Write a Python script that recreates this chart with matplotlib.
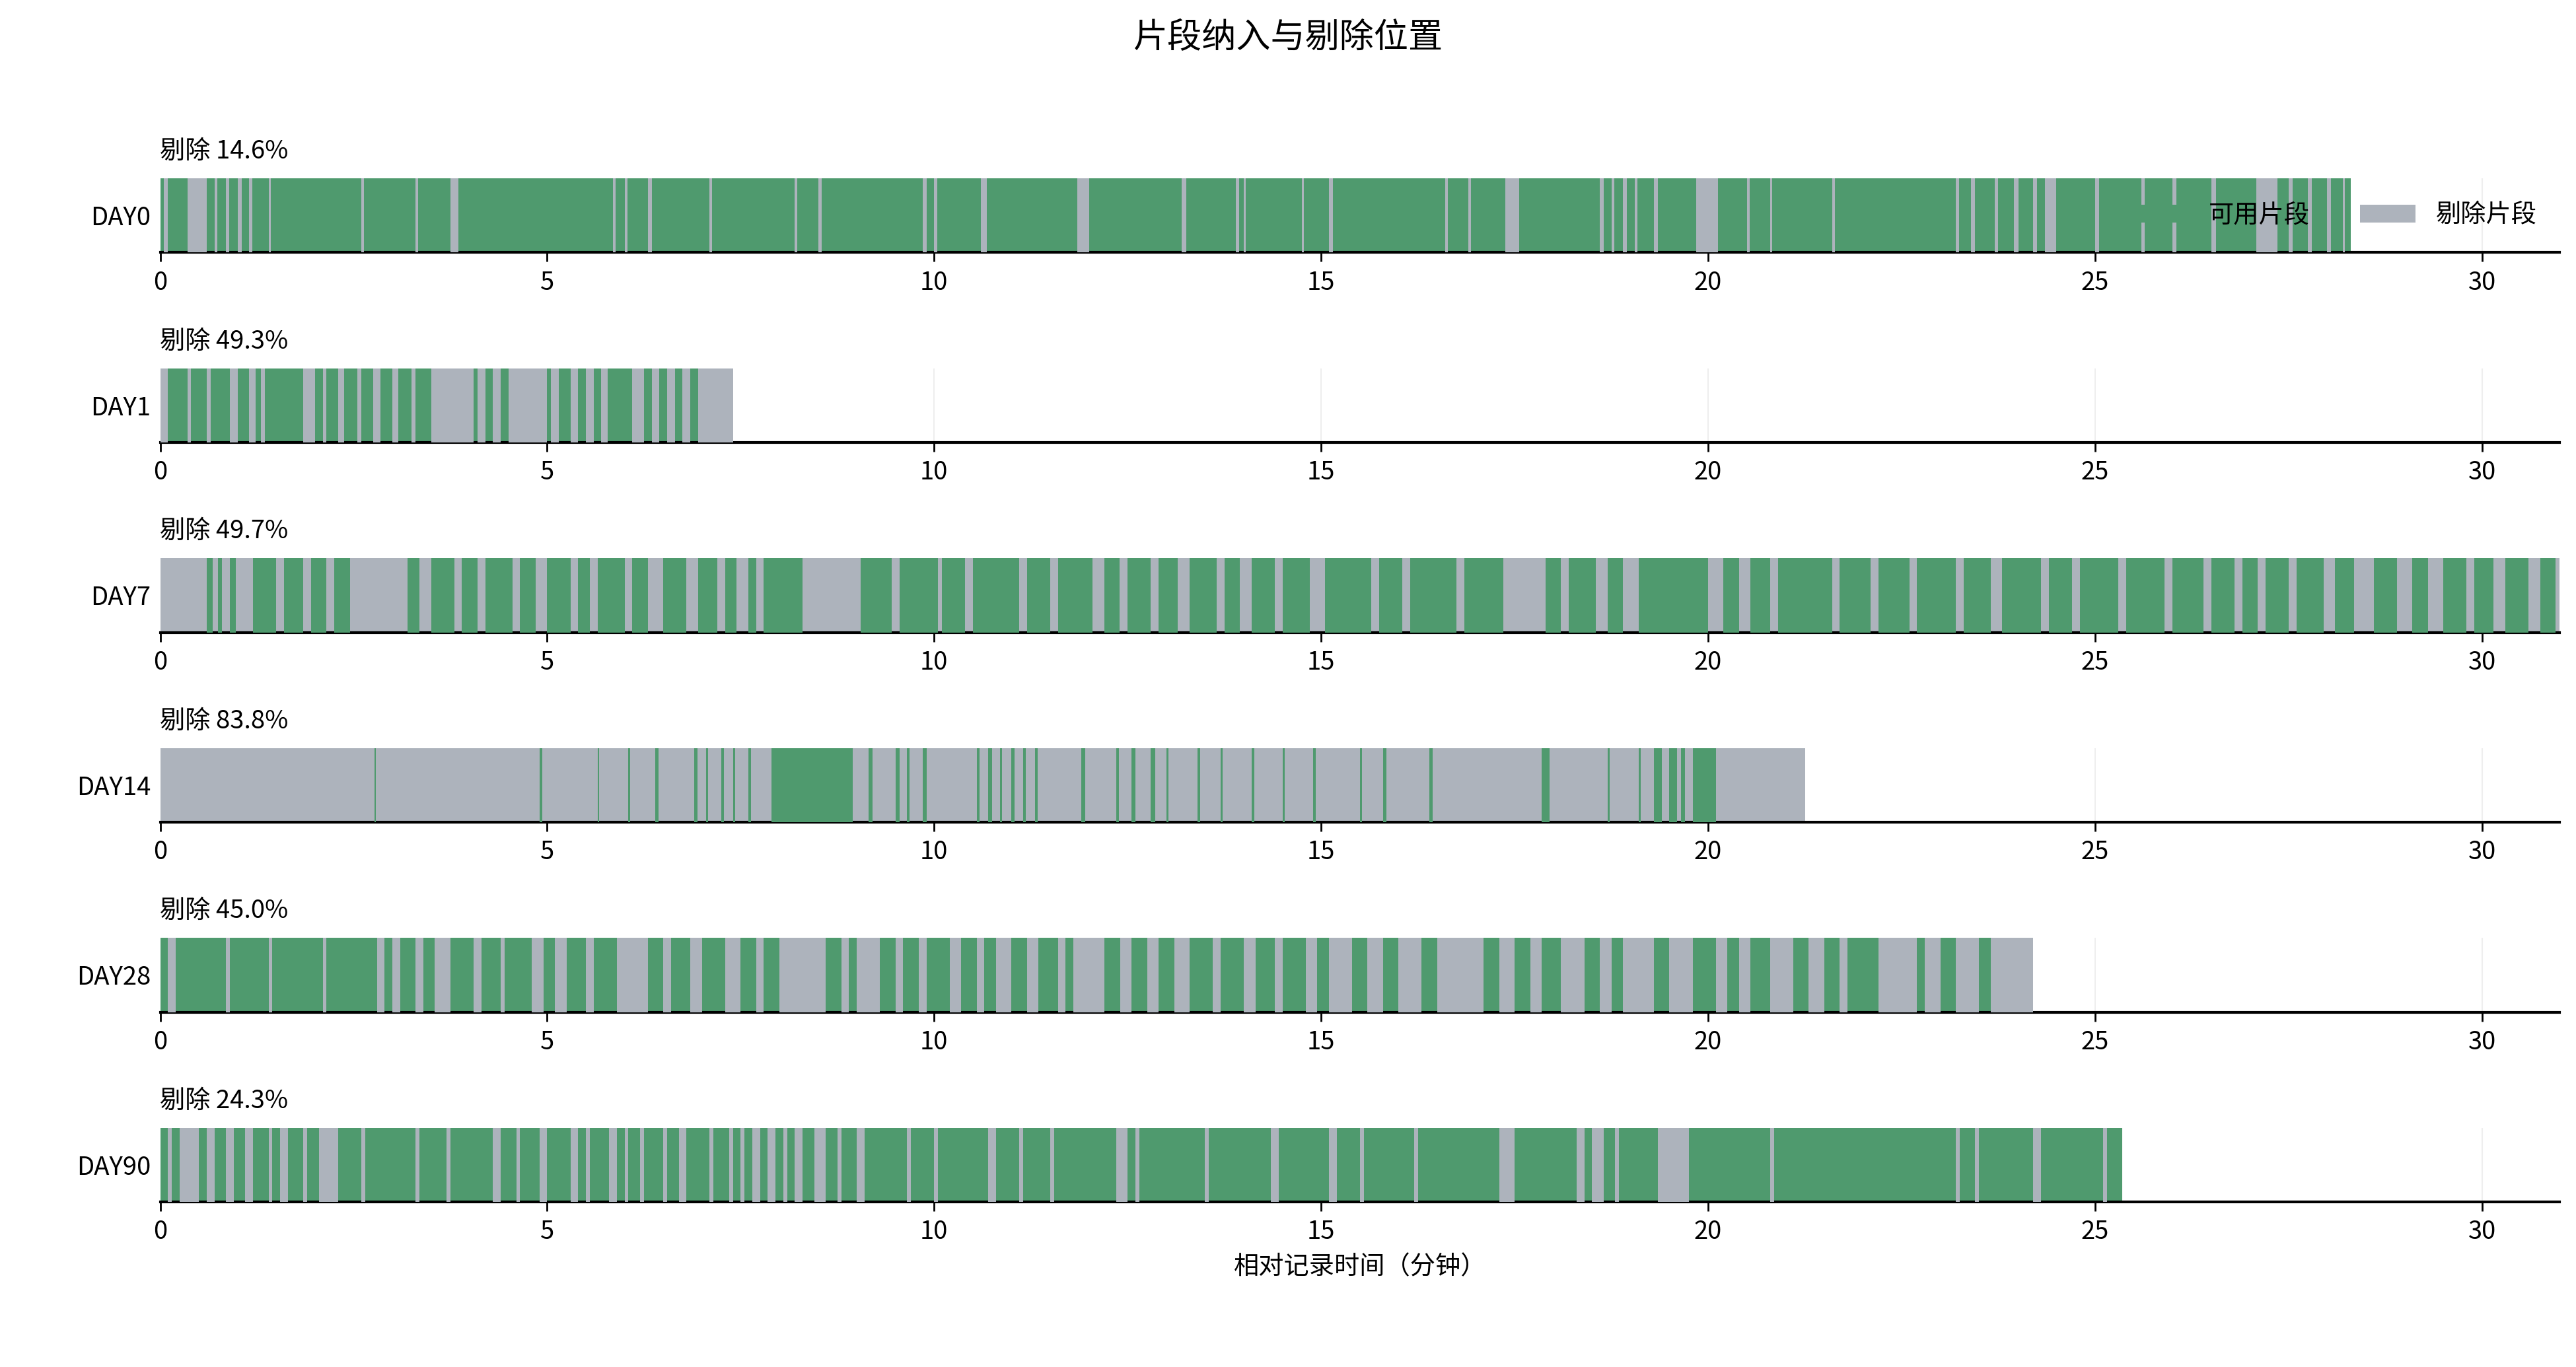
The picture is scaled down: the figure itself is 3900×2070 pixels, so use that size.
import matplotlib
matplotlib.use("Agg")
import matplotlib.pyplot as plt
from matplotlib.patches import Patch

plt.rcParams['font.family'] = ['Noto Sans CJK SC', 'DejaVu Sans']

days = ["DAY0", "DAY1", "DAY7", "DAY14", "DAY28", "DAY90"]
durations = [28.3, 7.4, 31.0, 21.25, 24.2, 25.35]
excl_pct = [14.6, 49.3, 49.7, 83.8, 45.0, 24.3]
# background state per day: 'good' means green background with excluded (gray) intervals listed
background = ["good", "good", "bad", "bad", "good", "good"]

day0_marks = [(0.05,0.05),(0.35,0.25),(0.7,0.04),(0.85,0.04),(1.0,0.05),(1.15,0.04),(1.4,0.03),(2.6,0.03),(3.3,0.03),(3.75,0.1),(5.85,0.03),(6.0,0.04),(6.3,0.05),(7.1,0.03),(8.2,0.03),(8.5,0.05),(9.85,0.05),(10.0,0.04),(10.6,0.08),(11.85,0.15),(13.2,0.06),(13.9,0.04),(14.0,0.03),(14.75,0.03),(15.1,0.05),(16.6,0.04),(16.9,0.04),(17.38,0.18),(18.6,0.05),(18.75,0.04),(18.9,0.05),(19.05,0.04),(19.3,0.05),(19.85,0.28),(20.5,0.04),(20.8,0.03),(21.6,0.04),(23.2,0.04),(23.4,0.05),(23.7,0.05),(23.95,0.06),(24.2,0.05),(24.35,0.15),(25.0,0.05),(25.6,0.04),(26.0,0.05),(26.5,0.06),(27.08,0.28),(27.5,0.05),(27.75,0.05),(28.0,0.05),(28.2,0.03)]
day1_marks = [(0.0,0.1),(0.35,0.05),(0.6,0.05),(0.9,0.1),(1.15,0.08),(1.3,0.05),(1.85,0.15),(2.1,0.05),(2.3,0.08),(2.55,0.05),(2.75,0.1),(3.0,0.08),(3.25,0.05),(3.5,0.55),(4.1,0.1),(4.3,0.1),(4.5,0.5),(5.05,0.1),(5.3,0.1),(5.5,0.1),(5.7,0.08),(6.1,0.15),(6.35,0.1),(6.55,0.1),(6.75,0.1),(6.95,0.45)]
day7_marks = [(0.6,0.08),(0.75,0.05),(0.9,0.08),(1.2,0.3),(1.6,0.25),(1.95,0.2),(2.25,0.2),(3.2,0.15),(3.5,0.3),(3.9,0.2),(4.2,0.35),(4.65,0.2),(5.0,0.3),(5.4,0.15),(5.65,0.35),(6.1,0.2),(6.5,0.3),(6.95,0.25),(7.3,0.15),(7.6,0.1),(7.8,0.5),(9.05,0.4),(9.55,0.5),(10.1,0.3),(10.5,0.6),(11.2,0.3),(11.6,0.45),(12.2,0.2),(12.5,0.3),(12.9,0.25),(13.3,0.35),(13.75,0.2),(14.1,0.3),(14.5,0.35),(15.05,0.6),(15.75,0.3),(16.15,0.6),(16.85,0.5),(17.9,0.2),(18.2,0.35),(18.7,0.2),(19.1,0.9),(20.2,0.2),(20.55,0.25),(20.9,0.7),(21.7,0.4),(22.2,0.4),(22.7,0.5),(23.3,0.35),(23.8,0.5),(24.4,0.3),(24.8,0.5),(25.4,0.5),(26.0,0.4),(26.5,0.3),(26.9,0.2),(27.2,0.3),(27.6,0.35),(28.1,0.25),(28.6,0.3),(29.1,0.2),(29.5,0.3),(29.9,0.25),(30.3,0.3),(30.75,0.2)]
day14_marks = [(2.77,0.02),(4.9,0.04),(5.65,0.02),(6.05,0.02),(6.4,0.04),(6.9,0.04),(7.05,0.03),(7.25,0.03),(7.4,0.03),(7.6,0.03),(7.9,1.05),(9.15,0.05),(9.5,0.05),(9.65,0.03),(9.85,0.05),(10.55,0.04),(10.7,0.05),(10.85,0.03),(11.0,0.04),(11.15,0.03),(11.3,0.04),(11.9,0.05),(12.35,0.04),(12.55,0.05),(12.8,0.06),(13.0,0.03),(13.4,0.04),(13.7,0.03),(14.1,0.04),(14.5,0.03),(14.9,0.03),(15.5,0.03),(15.8,0.04),(16.4,0.04),(17.85,0.1),(18.7,0.03),(19.1,0.03),(19.3,0.1),(19.5,0.1),(19.65,0.05),(19.8,0.3)]
day28_marks = [(0.1,0.1),(0.85,0.05),(1.4,0.05),(2.1,0.05),(2.8,0.1),(3.0,0.1),(3.3,0.1),(3.55,0.2),(4.05,0.1),(4.4,0.05),(4.8,0.15),(5.1,0.15),(5.5,0.1),(5.9,0.4),(6.5,0.1),(6.85,0.15),(7.3,0.2),(7.7,0.1),(8.0,0.6),(8.8,0.1),(9.0,0.3),(9.5,0.1),(9.8,0.1),(10.2,0.15),(10.55,0.1),(10.8,0.2),(11.2,0.15),(11.6,0.1),(11.8,0.4),(12.4,0.15),(12.75,0.15),(13.1,0.2),(13.6,0.1),(14.0,0.15),(14.4,0.1),(14.8,0.15),(15.1,0.3),(15.6,0.2),(16.0,0.3),(16.5,0.6),(17.3,0.2),(17.7,0.15),(18.1,0.3),(18.6,0.15),(18.9,0.4),(19.5,0.3),(20.1,0.15),(20.4,0.15),(20.8,0.3),(21.3,0.2),(21.7,0.1),(22.2,0.5),(22.8,0.2),(23.2,0.3),(23.65,0.55)]
day90_marks = [(0.1,0.05),(0.25,0.25),(0.6,0.1),(0.85,0.1),(1.1,0.1),(1.4,0.05),(1.55,0.1),(1.85,0.05),(2.05,0.25),(2.6,0.05),(3.3,0.05),(3.7,0.05),(4.3,0.1),(4.6,0.05),(4.9,0.1),(5.3,0.1),(5.5,0.05),(5.8,0.1),(6.0,0.05),(6.2,0.05),(6.5,0.05),(6.7,0.1),(7.1,0.05),(7.35,0.05),(7.5,0.05),(7.65,0.1),(7.85,0.1),(8.05,0.05),(8.2,0.1),(8.45,0.15),(8.75,0.05),(9.0,0.1),(9.65,0.05),(10.0,0.05),(10.7,0.1),(11.1,0.05),(11.5,0.05),(12.35,0.15),(12.6,0.05),(13.5,0.05),(14.35,0.1),(15.1,0.1),(15.5,0.05),(16.2,0.05),(17.3,0.2),(18.3,0.1),(18.5,0.15),(18.8,0.05),(19.35,0.4),(20.8,0.05),(23.2,0.05),(23.45,0.05),(24.2,0.1),(25.1,0.05)]
marks = [day0_marks, day1_marks, day7_marks, day14_marks, day28_marks, day90_marks]

GREEN = "#4f9a6e"
GRAY = "#adb3bc"

W, H = 1560, 828
fig = plt.figure(figsize=(15.6, 8.28), dpi=250)
left = 97 / W
width = (1550 - 97) / W
axes = []
for i in range(len(days)):
    bottom = 1 - (153 + 115 * i) / H
    ax = fig.add_axes([left, bottom, width, 45 / H])
    axes.append(ax)
    bg, fg = (GREEN, GRAY) if background[i] == "good" else (GRAY, GREEN)
    ax.broken_barh([(0, durations[i])], (0, 1), facecolors=bg, edgecolor="none", zorder=2)
    ax.broken_barh(marks[i], (0, 1), facecolors=fg, edgecolor="none", zorder=3)
    ax.set_xlim(0, 31.0)
    ax.set_ylim(0, 1)
    ax.set_yticks([0.5])
    ax.set_yticklabels([days[i]], fontsize=11)
    ax.tick_params(axis="y", length=0, pad=4)
    ax.set_xticks([0, 5, 10, 15, 20, 25, 30])
    ax.tick_params(axis="x", labelsize=11, length=4)
    for s in ["top", "right", "left"]:
        ax.spines[s].set_visible(False)
    ax.spines["bottom"].set_linewidth(1.2)
    ax.grid(axis="x", color="#eeeeee", linewidth=0.6, zorder=0)
    ax.set_axisbelow(True)
    ax.text(0.0, 1.36, f"剔除 {excl_pct[i]:.1f}%", transform=ax.transAxes,
            fontsize=11, va="center", ha="left")

axes[-1].set_xlabel("相对记录时间（分钟）", fontsize=11)
handles = [Patch(facecolor=GREEN, label="可用片段"), Patch(facecolor=GRAY, label="剔除片段")]
leg = axes[0].legend(handles=handles, loc="center right", bbox_to_anchor=(1.0, 0.5),
                     ncol=2, frameon=False, fontsize=11, handlelength=2.2, columnspacing=2.0)
leg.set_zorder(5)
fig.suptitle("片段纳入与剔除位置", fontsize=15, y=0.985)
fig.savefig("out.png", dpi=250)
